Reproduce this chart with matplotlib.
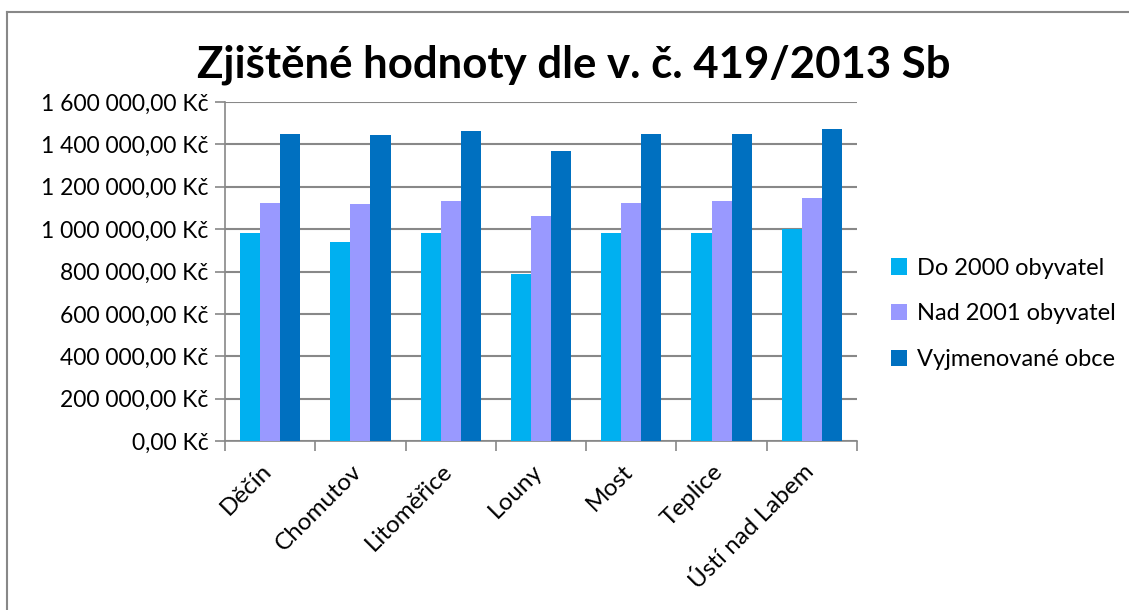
# Zjištěné hodnoty dle v. č. 419/2013 Sb - grouped bar chart
import numpy as np
import matplotlib
matplotlib.use("Agg")
import matplotlib.pyplot as plt
from matplotlib.lines import Line2D
from matplotlib.transforms import ScaledTranslation
from matplotlib.ticker import FuncFormatter, MultipleLocator

plt.rcParams['font.family'] = ['Lato', 'Open Sans', 'DejaVu Sans']

towns = ["Děčín", "Chomutov", "Litoměřice", "Louny", "Most", "Teplice", "Ústí nad Labem"]
series_names = ["Do 2000 obyvatel", "Nad 2001 obyvatel", "Vyjmenované obce"]
do_2000 = [982000, 937000, 982000, 790000, 982000, 981000, 1001000]
nad_2001 = [1121000, 1120000, 1131000, 1064000, 1123000, 1132000, 1145000]
vyjmenovane = [1449000, 1443000, 1461000, 1368000, 1449000, 1449000, 1474000]
colors = ["#00B0F0", "#9999FF", "#0070C0"]


def czk(v, pos=None):
    s = "{:,.2f}".format(v).replace(",", " ").replace(".", ",")
    return s + " Kč"


fig = plt.figure(figsize=(11.29, 6.10), dpi=100)
ax = fig.add_axes([225 / 1129, 1 - 441 / 610, (857 - 225) / 1129, (441 - 102) / 610])

x = np.arange(len(towns))
w = 1 / 4.5  # gap width 150 %
for i, (vals, name) in enumerate(zip([do_2000, nad_2001, vyjmenovane], series_names)):
    ax.bar(x + (i - 1) * w, vals, width=w, color=colors[i], label=name, zorder=3)

ax.set_xlim(-0.5, len(towns) - 0.5)
ax.set_ylim(0, 1600000)
ax.yaxis.set_major_locator(MultipleLocator(200000))
ax.yaxis.set_major_formatter(FuncFormatter(czk))
ax.grid(axis="y", color="#888888", linewidth=1.5, zorder=0)

ax.set_xticks(x)
ax.set_xticklabels(towns, rotation=45, ha="right", rotation_mode="anchor", fontsize=17.5)
ax.set_xticks(np.arange(len(towns) + 1) - 0.5, minor=True)
ax.tick_params(axis="x", which="major", length=0, pad=14)
ax.tick_params(axis="x", which="minor", length=7, color="#888888", width=1.2)
ax.tick_params(axis="y", length=7, color="#888888", width=1.2, labelsize=16.5, pad=5)
shift = ScaledTranslation(-7 / 72, 0, fig.dpi_scale_trans)
for lbl in ax.get_xticklabels():
    lbl.set_transform(lbl.get_transform() + shift)

for side in ["top", "right"]:
    ax.spines[side].set_visible(False)
for side in ["left", "bottom"]:
    ax.spines[side].set_color("#888888")
    ax.spines[side].set_linewidth(1.2)

fig.text(0.508, 1 - 65 / 610, "Zjištěné hodnoty dle v. č. 419/2013 Sb",
         ha="center", va="center", fontsize=31.5, fontweight="bold")

ax.legend(loc="center left", bbox_to_anchor=(1.02, 0.375), frameon=False,
          fontsize=17, handlelength=0.7, handleheight=0.7, labelspacing=1.05,
          handletextpad=0.4)

# chart border (top and left visible)
fig.add_artist(Line2D([7 / 1129, 7 / 1129], [0, 1 - 12 / 610], transform=fig.transFigure,
                      color="#888888", linewidth=1.5))
fig.add_artist(Line2D([7 / 1129, 1], [1 - 12 / 610, 1 - 12 / 610], transform=fig.transFigure,
                      color="#888888", linewidth=1.5))

fig.savefig("out.png", dpi=100)
